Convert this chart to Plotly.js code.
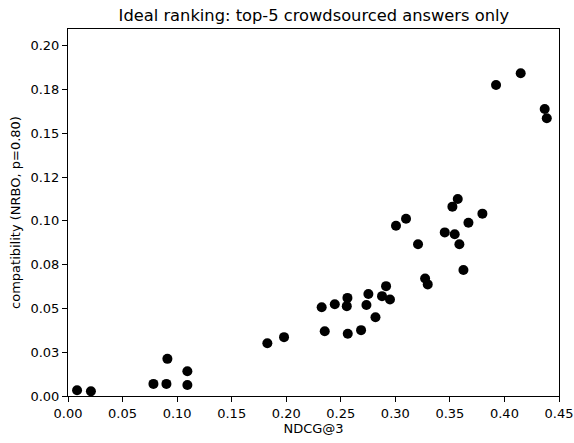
<!DOCTYPE html>
<html>
<head>
<meta charset="utf-8">
<script src="https://cdn.plot.ly/plotly-3.0.1.min.js"></script>
<style>
html, body { margin: 0; padding: 0; background: #fff; }
#chart { width: 574px; height: 443px; }
</style>
</head>
<body>
<div id="chart"></div>
<script>
const ndcg3 = [
  0.0083, 0.021, 0.0783, 0.0902, 0.0911, 0.1094, 0.1094, 0.1827, 0.198,
  0.2325, 0.2353, 0.2445, 0.2561, 0.2555, 0.2564, 0.2686, 0.2735, 0.2753,
  0.2818, 0.2878, 0.2915, 0.2951,
  0.3273, 0.3297, 0.3624, 0.3006, 0.3098, 0.3208, 0.3453, 0.3544, 0.3587,
  0.3523, 0.3572, 0.367, 0.3798,
  0.3923, 0.4149, 0.4369, 0.4388
];
const nrbo = [
  0.0033, 0.0027, 0.0069, 0.0069, 0.0212, 0.0141, 0.0063, 0.0301, 0.0336,
  0.0507, 0.037, 0.0524, 0.056, 0.0513, 0.0355, 0.0376, 0.0519, 0.0582,
  0.045, 0.057, 0.0627, 0.0551,
  0.0671, 0.0637, 0.0719, 0.0972, 0.1012, 0.0866, 0.0934, 0.0923, 0.0866,
  0.1081, 0.1125, 0.0989, 0.1041,
  0.1775, 0.1842, 0.1638, 0.1586
];
const yTickVals = [0, 0.025, 0.05, 0.075, 0.1, 0.125, 0.15, 0.175, 0.2];
const yTickLabels = ["0.00", "0.03", "0.05", "0.08", "0.10", "0.12", "0.15", "0.18", "0.20"];
const xTickVals = [0, 0.05, 0.1, 0.15, 0.2, 0.25, 0.3, 0.35, 0.4, 0.45];

const font = 'DejaVu Sans, sans-serif';

Plotly.newPlot('chart', [{
  type: 'scatter',
  mode: 'markers',
  x: ndcg3,
  y: nrbo,
  marker: { color: '#000000', size: 10, line: { width: 0 } },
  hoverinfo: 'skip'
}], {
  width: 574,
  height: 443,
  margin: { l: 68, r: 15, t: 29, b: 47 },
  paper_bgcolor: '#ffffff',
  plot_bgcolor: '#ffffff',
  showlegend: false,
  font: { family: font, size: 13, color: '#000000' },
  title: {
    text: 'Ideal ranking: top-5 crowdsourced answers only',
    font: { family: font, size: 16.3, color: '#000000' },
    x: 0.5468, xanchor: 'center',
    y: 0.965, yanchor: 'middle', yref: 'container'
  },
  xaxis: {
    range: [0, 0.45],
    tickvals: xTickVals,
    tickformat: '.2f',
    ticks: 'outside', ticklen: 5, tickwidth: 1, tickcolor: '#000',
    showline: true, linecolor: '#000', linewidth: 1, mirror: true,
    showgrid: false, zeroline: false,
    tickfont: { family: font, size: 13, color: '#000' },
    title: { text: 'NDCG@3', font: { family: font, size: 13, color: '#000' }, standoff: 4 }
  },
  yaxis: {
    range: [0, 0.2095],
    tickvals: yTickVals,
    ticktext: yTickLabels,
    ticks: 'outside', ticklen: 5, tickwidth: 1, tickcolor: '#000',
    showline: true, linecolor: '#000', linewidth: 1, mirror: true,
    showgrid: false, zeroline: false,
    tickfont: { family: font, size: 13, color: '#000' },
    title: { text: 'compatibility (NRBO, p=0.80)', font: { family: font, size: 13, color: '#000' }, standoff: 6 }
  }
}, { staticPlot: true, displayModeBar: false });
</script>
</body>
</html>
